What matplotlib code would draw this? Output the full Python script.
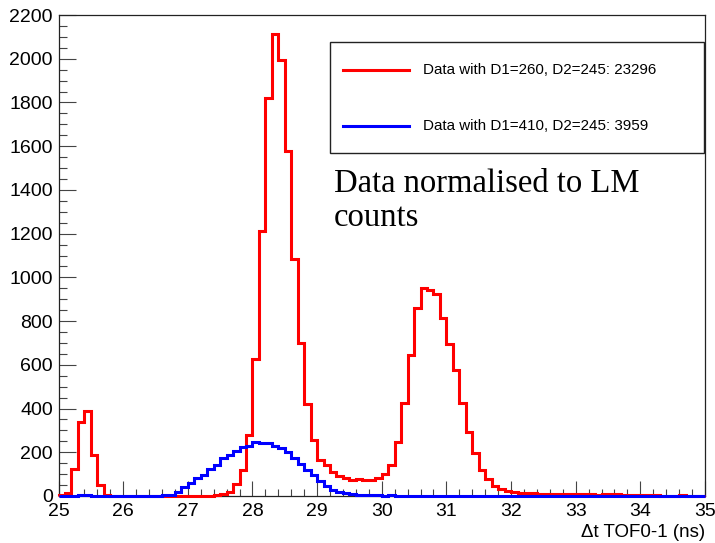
import numpy as np
import matplotlib
matplotlib.use("Agg")
import matplotlib.pyplot as plt
from matplotlib.ticker import MultipleLocator

# histogram binning (ns)
bin_lo, bin_hi, n_bins = 25.0, 35.0, 100

# D1=260, D2=245 (red)
red_counts = [
    5, 15, 122, 337, 389, 189, 50, 5, 2, 1,
    1, 1, 1, 0, 1, 1, 0, 1, 1, 1,
    1, 1, 1, 2, 3, 8, 20, 55, 119, 279,
    625, 1212, 1822, 2112, 1994, 1578, 1084, 701, 420, 257,
    166, 140, 108, 93, 81, 73, 78, 73, 73, 81,
    101, 142, 249, 424, 645, 862, 953, 942, 922, 816,
    695, 576, 424, 292, 195, 119, 77, 48, 32, 24,
    18, 15, 13, 12, 10, 9, 9, 8, 8, 8,
    8, 7, 7, 6, 7, 8, 7, 6, 4, 3,
    3, 3, 3, 2, 1, 2, 3, 1, 0, 0,
]

# D1=410, D2=245 (blue)
blue_counts = [
    1, 1, 1, 5, 3, 2, 2, 2, 2, 2,
    2, 2, 2, 2, 2, 2, 3, 6, 20, 40,
    58, 81, 96, 122, 142, 172, 188, 207, 226, 230,
    249, 244, 244, 230, 218, 203, 172, 147, 120, 95,
    70, 45, 27, 20, 12, 9, 6, 4, 3, 3,
    2, 3, 2, 2, 1, 0, 1, 0, 1, 1,
    1, 1, 0, 1, 1, 1, 0, 1, 1, 1,
    1, 0, 1, 1, 1, 1, 0, 1, 1, 1,
    1, 1, 0, 1, 1, 1, 1, 0, 1, 1,
    1, 1, 1, 0, 1, 1, 1, 1, 1, 1,
]

red_label = "Data with D1=260, D2=245: 23296"
blue_label = "Data with D1=410, D2=245: 3959"
note_lines = ["Data normalised to LM", "counts"]
x_label = "\u0394t TOF0-1 (ns)"

plt.rcParams['font.family'] = ['Liberation Sans', 'DejaVu Sans']

W, H = 715, 543
fig = plt.figure(figsize=(W / 100, H / 100), dpi=100)
# axes box in pixels: left 58.5, right 705, top 15, bottom 496
ax = fig.add_axes([58.5 / W, 1 - 496 / H, (705 - 58.5) / W, (496 - 15) / H])

edges = np.linspace(bin_lo, bin_hi, n_bins + 1)
ax.stairs(red_counts, edges, color="#ff0000", lw=2.2, zorder=3, clip_on=False)
ax.stairs(blue_counts, edges, color="#0000ff", lw=2.2, zorder=4, clip_on=False)

ax.set_xlim(bin_lo, bin_hi)
ax.set_ylim(0, 2200)

ax.xaxis.set_major_locator(MultipleLocator(1))
ax.xaxis.set_minor_locator(MultipleLocator(0.2))
ax.yaxis.set_major_locator(MultipleLocator(200))
ax.yaxis.set_minor_locator(MultipleLocator(50))

ax.tick_params(axis="both", which="both", direction="in", top=False, right=False,
               color="#444444", width=0.8)
ax.tick_params(axis="x", which="major", length=10.8, pad=5, labelsize=14)
ax.tick_params(axis="x", which="minor", length=5.4)
ax.tick_params(axis="y", which="major", length=12.2, pad=4, labelsize=14)
ax.tick_params(axis="y", which="minor", length=6.1)

for sp in ax.spines.values():
    sp.set_linewidth(0.9)
    sp.set_color("#222222")

ax.set_xlabel(x_label, fontsize=13.5, loc="right", labelpad=3)

# legend box drawn by hand (ROOT TLegend look)
box = plt.Rectangle((330 / W, 1 - 153 / H), (704 - 330) / W, (153 - 42) / H,
                    transform=fig.transFigure, facecolor="white",
                    edgecolor="#222222", lw=1.0, zorder=5)
fig.patches.append(box)
for yy, col, lab in [(70, "#ff0000", red_label), (126, "#0000ff", blue_label)]:
    fig.add_artist(plt.Line2D([343 / W, 409 / W], [1 - yy / H, 1 - yy / H],
                              color=col, lw=2.2, transform=fig.transFigure, zorder=6))
    fig.text(423 / W, 1 - yy / H, lab, fontsize=10.9, va="center", ha="left", zorder=6)

# annotation, two lines placed on their baselines
for yy, line in zip([192, 226], note_lines):
    fig.text(334 / W, 1 - yy / H, line, fontsize=23.5, family="Liberation Serif",
             va="baseline", ha="left")

fig.savefig("out.png", dpi=100)
